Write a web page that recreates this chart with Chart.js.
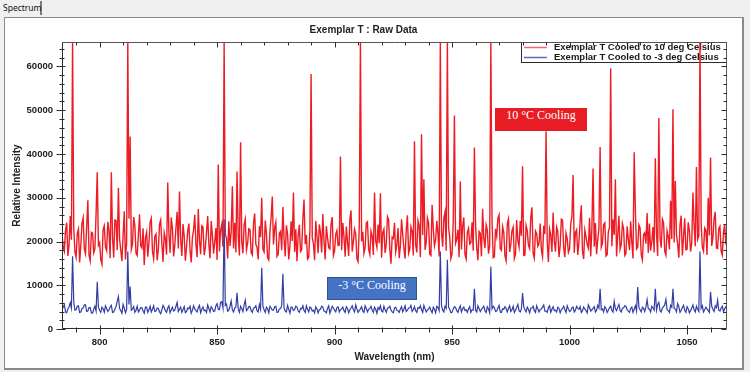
<!DOCTYPE html>
<html>
<head>
<meta charset="utf-8">
<title>Exemplar T : Raw Data</title>
<script src="https://cdn.jsdelivr.net/npm/chart.js@4.4.1/dist/chart.umd.min.js"></script>
<style>
  html, body { margin: 0; padding: 0; }
  body {
    width: 750px; height: 372px; position: relative; overflow: hidden;
    background: #f0f0f0; font-family: "Liberation Sans", Arial, sans-serif;
  }
  .tab {
    position: absolute; left: 0; top: 1px; width: 37px; height: 14px;
    border-right: 2px solid #7a7a7a; padding-left: 3px;
    font: 8.5px "Noto Sans", "DejaVu Sans", sans-serif; line-height: 14px; color: #111;
  }
  .panel {
    position: absolute; left: 4px; top: 17px; width: 740px; height: 353px;
    box-sizing: border-box; background: #fff;
    border: 1px solid #8a8a8a; border-right-width: 2px; border-bottom-width: 2px;
  }
  #chart { position: absolute; left: 0; top: 0; }
  .note {
    position: absolute; box-sizing: border-box; height: 23px; line-height: 22px;
    color: #fff; text-align: center; font: 12px "Liberation Serif", serif;
  }
  .note.red { left: 495px; top: 108px; width: 92px; background: #e81c24; }
  .note.blue { left: 327px; top: 277px; width: 90px; background: #4472c4; border: 1px solid #2f528f; }
</style>
</head>
<body>
<div class="tab">Spectrum</div>
<div class="panel"></div>
<canvas id="chart" width="750" height="372"></canvas>
<div class="note red">10 °C Cooling</div>
<div class="note blue">-3 °C Cooling</div>
<script>
(function () {
  "use strict";

  // wavelength grid, 0.5 nm per sample
  const WL_START = 784;
  const WL_STEP = 0.5;
  const WL_MIN = 784;
  const WL_MAX = 1067;
  const Y_MAX = 65600;
  const X_TICKS = [800, 850, 900, 950, 1000, 1050];
  const Y_TICKS = [0, 10000, 20000, 30000, 40000, 50000, 60000];

  const LABEL_10C = "Exemplar T Cooled to 10 deg Celsius";
  const LABEL_M3C = "Exemplar T Cooled to -3 deg Celsius";

  // 784 .. 1067 nm (one row = 10 nm)
  const RED_10C = [
    21500, 18900, 17800, 22600, 24300, 16700, 19200, 25800, 20400, 65535, 23100, 17600, 16400, 21800, 22800, 15200, 18900, 24100, 25400, 18300,
    17200, 23400, 29400, 16900, 15600, 22100, 21900, 17400, 18300, 26200, 35800, 19100, 19700, 15800, 14800, 22700, 23600, 18700, 17900, 24500,
    22400, 16200, 35800, 21000, 16300, 24900, 24800, 18000, 32300, 20500, 18100, 15500, 21300, 26900, 15900, 19600, 65535, 25200, 44000, 18200,
    19400, 25600, 23700, 17300, 16800, 21500, 26200, 19000, 18500, 23000, 14600, 20800, 22100, 16500, 19800, 24400, 25300, 17800, 16100, 21200,
    21700, 15700, 18200, 23900, 24900, 19500, 15300, 22000, 20600, 17000, 33500, 21900, 17400, 25500, 22900, 16600, 19100, 23200, 26800, 18400,
    31400, 20700, 16700, 24000, 21200, 15600, 18800, 22300, 24100, 17900, 15200, 21000, 22600, 26100, 19300, 16400, 27400, 20300, 17100, 23600,
    23300, 16900, 18600, 22100, 25800, 19400, 16200, 24700, 21400, 17200, 19900, 23100, 15800, 37600, 17700, 22500, 23900, 18800, 65535, 21600,
    20800, 16100, 24600, 19000, 22200, 32600, 18400, 24300, 17500, 36000, 21100, 16800, 42700, 19900, 17300, 23800, 25100, 18100, 19600, 22900,
    22700, 17400, 16900, 24200, 26400, 19300, 18700, 15900, 23500, 21000, 30000, 18200, 17600, 24800, 21800, 16300, 15800, 22400, 25600, 30300,
    19300, 23100, 24400, 16600, 17100, 21900, 22300, 18000, 27900, 20600, 16600, 23700, 21600, 15900, 18900, 24600, 20100, 31200, 17600, 22800,
    15500, 21300, 23800, 17700, 18100, 25200, 29600, 19400, 21500, 16000, 16400, 22600, 58300, 20900, 19500, 15700, 24700, 21200, 17300, 23900,
    22000, 17500, 26300, 20300, 15900, 23500, 20900, 18600, 18300, 24000, 25600, 16800, 17800, 21700, 22500, 19100, 19200, 39400, 18000, 24300,
    21100, 16500, 23400, 19900, 16700, 25000, 27100, 17700, 19900, 22800, 21700, 16100, 15400, 23300, 65535, 20000, 22200, 17300, 18600, 24200,
    24500, 18200, 17000, 22400, 21300, 16900, 31200, 20100, 18700, 23900, 19600, 31000, 16300, 22000, 22800, 17400, 19400, 25700, 25000, 18300,
    14900, 21000, 20700, 24300, 17600, 19200, 23100, 16200, 19000, 25100, 21600, 18500, 16100, 22700, 26000, 17300, 18200, 23400, 22400, 16800,
    42900, 19300, 17500, 24800, 23700, 16400, 44500, 21500, 34200, 18100, 19800, 25400, 24200, 17100, 16800, 28400, 22900, 19000, 20300, 24700,
    21800, 16600, 65535, 22300, 18800, 25300, 26700, 17900, 65535, 23200, 21000, 16100, 17200, 24500, 48800, 19600, 20500, 22700, 16400, 33700,
    18200, 23600, 25500, 17000, 16000, 22100, 23000, 19400, 19700, 24400, 17900, 41500, 24000, 18500, 15700, 22300, 21900, 16600, 27500, 20700,
    18500, 23800, 22600, 17200, 19100, 65535, 24800, 16300, 16500, 22900, 21200, 25300, 26100, 18400, 18000, 23400, 22100, 16700, 15600, 24100,
    25200, 17600, 19300, 22500, 23300, 16100, 17100, 24900, 20200, 18700, 24700, 21300, 37200, 16800, 16900, 23700, 22500, 19100, 18400, 25600,
    27800, 17300, 16200, 22400, 21800, 18900, 19500, 24100, 18100, 16500, 23600, 21700, 45200, 19800, 15300, 22800, 21400, 17600, 26600, 20200,
    17700, 23300, 22300, 16400, 19000, 25100, 24900, 18600, 16400, 21900, 20600, 17500, 18300, 24000, 25700, 35200, 17400, 22100, 22700, 16900,
    19900, 24600, 28300, 17800, 16000, 22600, 21100, 19300, 18500, 25400, 16600, 23000, 36700, 18800, 24200, 17100, 20400, 22900, 41600, 18700,
    19600, 23900, 24300, 16700, 17000, 22200, 23200, 59600, 18900, 25000, 21500, 34200, 16600, 21400, 25900, 18200, 19200, 24100, 22900, 16800,
    17300, 23500, 20400, 18000, 24600, 19700, 16100, 40400, 27200, 18300, 18700, 23800, 23100, 17000, 15800, 21600, 22000, 19500, 26500, 17400,
    24100, 17900, 20000, 23300, 17500, 39000, 21800, 16700, 48200, 20800, 18600, 25100, 24300, 17800, 16900, 22400, 21100, 18200, 29300, 20600,
    50200, 19800, 33800, 21600, 19400, 16300, 23800, 25900, 16800, 20900, 25300, 18100, 18200, 24400, 22400, 17700, 19700, 31200, 23600, 18900,
    37000, 20500, 21300, 65535, 24200, 18700, 17800, 23100, 22600, 16900, 30000, 21400, 39200, 19000, 20900, 25200, 26800, 18500, 18400, 23000,
    23500, 17800, 16900, 22100, 24000, 19300, 21200
  ];

  // 784 .. 1067 nm (one row = 10 nm)
  const BLUE_M3C = [
    4200, 5000, 5600, 3900, 3700, 4600, 5100, 6000, 4800, 16600, 6200, 4300, 4400, 5200, 5300, 3800, 3900, 4700, 4800, 5500,
    5500, 4000, 4100, 4900, 4900, 3700, 3600, 4500, 5200, 4100, 10800, 5000, 4300, 3800, 5000, 4600, 3800, 5300, 4700, 4000,
    4400, 5000, 5400, 3800, 3900, 4500, 5100, 6300, 7400, 4700, 4200, 3600, 5600, 4800, 3700, 4400, 17700, 5600, 9700, 4300,
    4600, 5100, 3800, 4300, 5200, 3900, 4300, 4900, 4900, 4100, 3600, 5000, 5000, 3800, 4400, 5200, 3900, 4500, 5300, 4000,
    4100, 4800, 4700, 3900, 3500, 4400, 5400, 4900, 4200, 3800, 4800, 5300, 3700, 4400, 5000, 4100, 4300, 5200, 6100, 4000,
    4500, 5000, 3800, 4400, 5100, 3700, 4000, 4800, 4600, 5200, 3600, 4300, 5300, 4600, 4200, 3900, 4900, 5400, 3700, 4500,
    5000, 4200, 4300, 3800, 5500, 4700, 3900, 5100, 4700, 4000, 4100, 5300, 5800, 4500, 4400, 6100, 6200, 4800, 25000, 5400,
    5700, 4100, 4300, 5200, 6400, 4400, 3900, 4800, 5000, 8300, 4600, 3800, 5200, 4700, 4000, 5500, 6600, 4200, 4500, 5100,
    5100, 4200, 3800, 4700, 4900, 5300, 4200, 3900, 5600, 4500, 14000, 5200, 4400, 3800, 5000, 4600, 3700, 5200, 4800, 4300,
    4300, 5100, 5200, 3800, 3900, 4600, 4700, 5400, 12600, 4800, 4100, 3900, 5400, 4500, 3600, 5000, 4900, 4200, 4400, 5200,
    5000, 4100, 3800, 4700, 4600, 5300, 4200, 3800, 5300, 4500, 3900, 5000, 4800, 4100, 4300, 3700, 5100, 4600, 3700, 4400,
    4500, 5200, 5000, 4100, 4000, 3700, 4700, 5300, 3600, 4400, 5200, 4800, 4300, 3900, 4900, 5100, 3900, 4400, 4600, 5000,
    4200, 3800, 5100, 4700, 3700, 4400, 4800, 5300, 4400, 3900, 5500, 4600, 3800, 4200, 4600, 5100, 4100, 3800, 5300, 4700,
    3900, 4500, 4700, 5200, 4300, 3800, 5000, 4500, 3600, 4900, 4500, 5300, 4100, 3900, 5200, 4400, 3800, 4700, 4900, 5200,
    4400, 3900, 3700, 4800, 5000, 4300, 4200, 3800, 4600, 5100, 3900, 4500, 5300, 4000, 4300, 4800, 4800, 5400, 4000, 4400,
    5100, 4200, 3800, 4900, 4700, 5300, 4400, 3800, 5400, 4600, 3900, 4300, 4600, 5000, 4200, 3700, 5000, 4500, 3700, 5200,
    4900, 4200, 17700, 5400, 4300, 3900, 5200, 4700, 15800, 5000, 4500, 3700, 3800, 4600, 5100, 4900, 4200, 3800, 4700, 5300,
    3900, 4600, 5000, 4200, 4400, 3800, 4600, 5100, 3800, 4400, 4300, 9200, 4300, 3900, 5300, 4700, 4000, 4500, 4800, 5200,
    4200, 3800, 5100, 4600, 3700, 14300, 4600, 5200, 4900, 4000, 4100, 4800, 5400, 3900, 3800, 4600, 4500, 5100, 4700, 3900,
    4700, 5300, 4000, 4400, 5200, 3800, 4300, 4900, 5600, 4200, 3900, 4600, 8200, 5100, 4400, 3900, 5000, 4500, 3700, 4800,
    4800, 5200, 4200, 3800, 5300, 4600, 3900, 4400, 4600, 5000, 5500, 4100, 4100, 3800, 4900, 5300, 3800, 4500, 5100, 4200,
    4300, 3900, 5000, 4700, 3700, 4400, 4700, 5200, 4400, 3800, 5300, 4600, 4000, 4200, 4800, 5000, 3900, 4300, 5200, 4700,
    4500, 5100, 3800, 4200, 5000, 4600, 4200, 3700, 5500, 4900, 4100, 4400, 4700, 5100, 3900, 4300, 5400, 4800, 9200, 4400,
    4600, 3900, 5100, 4700, 3800, 4300, 4900, 5200, 4300, 3900, 6300, 4600, 4200, 5000, 5600, 4200, 3900, 4800, 4800, 5300,
    5200, 4400, 4100, 3800, 4700, 5000, 3800, 4500, 5300, 4100, 9600, 5000, 4400, 3900, 5000, 4700, 4000, 5100, 6700, 4600,
    4500, 3900, 5200, 4800, 4300, 9200, 4300, 5600, 6100, 4200, 3900, 4800, 5100, 5500, 6800, 4400, 4200, 3800, 5400, 5000,
    9200, 4700, 4600, 3900, 5800, 5100, 3800, 4300, 4900, 5400, 4300, 3800, 5100, 4600, 3700, 4200, 4800, 5500, 4400, 3900,
    5200, 4500, 4000, 17700, 4700, 5300, 3900, 4400, 5000, 4600, 4200, 3800, 8500, 5200, 4500, 4000, 5300, 4900, 6600, 4300,
    4100, 4800, 5200, 3900, 4600, 5100, 5400
  ];

  const RED = "rgb(237, 28, 36)";
  const BLUE = "rgb(50, 62, 166)";
  const AXIS = "#2b2b2b";
  const BOLD = { family: "'Liberation Sans', Arial, sans-serif", weight: "bold" };

  const toPoints = (arr) => arr.map((v, i) => ({ x: WL_START + i * WL_STEP, y: v }));
  const tickList = (vals) => (s) => { s.ticks = vals.map((v) => ({ value: v })); };

  // legend sits inside the plot, under the traces (the 1055 nm spike crosses it)
  const legendBox = {
    id: "legendBox",
    beforeDatasetsDraw(chart) {
      const { ctx, chartArea } = chart;
      const x1 = chartArea.right, x0 = x1 - 206, y0 = chartArea.top, y1 = y0 + 21;
      ctx.save();
      ctx.fillStyle = "#fff";
      ctx.fillRect(x0, y0, x1 - x0, y1 - y0);
      ctx.strokeStyle = AXIS;
      ctx.lineWidth = 1;
      ctx.strokeRect(x0 + 0.5, y0 + 0.5, x1 - x0 - 1, y1 - y0 - 1);
      ctx.font = "bold 9.5px 'Liberation Sans', Arial, sans-serif";
      ctx.textBaseline = "middle";
      const rows = [
        { text: LABEL_10C, color: "#f06a6e", y: y0 + 5.5 },
        { text: LABEL_M3C, color: "#5d66c0", y: y0 + 15.5 },
      ];
      rows.forEach((r) => {
        ctx.strokeStyle = r.color;
        ctx.lineWidth = 1.5;
        ctx.beginPath();
        ctx.moveTo(x0 + 3, r.y);
        ctx.lineTo(x0 + 26, r.y);
        ctx.stroke();
        ctx.fillStyle = "#1a1a1a";
        ctx.fillText(r.text, x0 + 33, r.y);
      });
      ctx.restore();
    },
  };

  // box round the plot, with minor / major tick marks on all four sides
  const frameTicks = {
    id: "frameTicks",
    afterDatasetsDraw(chart) {
      const { ctx, chartArea: a, scales } = chart;
      const L = Math.round(a.left) + 0.5, R = Math.round(a.right) - 0.5;
      const T = Math.round(a.top) + 0.5, B = Math.round(a.bottom) - 0.5;
      ctx.save();
      ctx.lineWidth = 1;
      ctx.strokeStyle = "#555";
      ctx.beginPath();
      ctx.moveTo(L, T); ctx.lineTo(R, T); ctx.lineTo(R, B);
      ctx.stroke();
      ctx.strokeStyle = AXIS;
      ctx.beginPath();
      ctx.moveTo(L, T); ctx.lineTo(L, B); ctx.lineTo(R, B);
      ctx.stroke();

      ctx.beginPath();
      for (let v = 790; v <= WL_MAX; v += 10) {
        const x = Math.round(scales.x.getPixelForValue(v)) + 0.5;
        const major = X_TICKS.includes(v);
        ctx.moveTo(x, B - (major ? 3 : 1)); ctx.lineTo(x, B + (major ? 6 : 4));
        ctx.moveTo(x, T); ctx.lineTo(x, T + (major ? 5 : 3));
      }
      for (let v = 0; v <= Y_MAX; v += 2000) {
        const y = Math.round(scales.y.getPixelForValue(v)) + 0.5;
        const major = Y_TICKS.includes(v);
        ctx.moveTo(L - (major ? 6 : 3), y); ctx.lineTo(L + (major ? 3 : 2), y);
        ctx.moveTo(R, y); ctx.lineTo(R - (major ? 5 : 3), y);
      }
      ctx.stroke();
      ctx.restore();
    },
  };

  new Chart(document.getElementById("chart"), {
    type: "line",
    data: {
      datasets: [
        {
          label: LABEL_10C,
          data: toPoints(RED_10C),
          borderColor: RED,
          borderWidth: 1.4,
          pointRadius: 0,
          tension: 0,
          order: 1,
        },
        {
          label: LABEL_M3C,
          data: toPoints(BLUE_M3C),
          borderColor: BLUE,
          borderWidth: 1.2,
          pointRadius: 0,
          tension: 0,
          order: 0,
        },
      ],
    },
    options: {
      responsive: false,
      devicePixelRatio: 1,
      animation: false,
      events: [],
      layout: { padding: { left: 0, right: 23, top: 17, bottom: 0 } },
      plugins: {
        legend: { display: false },
        tooltip: { enabled: false },
        title: {
          display: true,
          text: "Exemplar T : Raw Data",
          color: "#222",
          font: { ...BOLD, size: 10 },
          padding: { top: 7, bottom: 6 },
        },
      },
      scales: {
        x: {
          type: "linear",
          min: WL_MIN,
          max: WL_MAX,
          afterFit: (s) => { s.height = 43; },
          afterBuildTicks: tickList(X_TICKS),
          grid: { display: false, drawTicks: false },
          border: { display: false },
          ticks: {
            color: "#222",
            font: { ...BOLD, size: 9.5 },
            padding: 8,
            maxRotation: 0,
            callback: (v) => String(v),
          },
          title: {
            display: true,
            text: "Wavelength (nm)",
            color: "#222",
            font: { ...BOLD, size: 10 },
            padding: { top: 0, bottom: 9 },
          },
        },
        y: {
          min: 0,
          max: Y_MAX,
          afterFit: (s) => { s.width = 62; },
          afterBuildTicks: tickList(Y_TICKS),
          grid: { display: false, drawTicks: false },
          border: { display: false },
          ticks: {
            color: "#222",
            font: { ...BOLD, size: 9.5 },
            padding: 9,
            callback: (v) => String(v),
          },
          title: {
            display: true,
            text: "Relative Intensity",
            color: "#222",
            font: { ...BOLD, size: 10 },
            padding: { top: 11, bottom: 0 },
          },
        },
      },
    },
    plugins: [legendBox, frameTicks],
  });
})();
</script>
</body>
</html>
